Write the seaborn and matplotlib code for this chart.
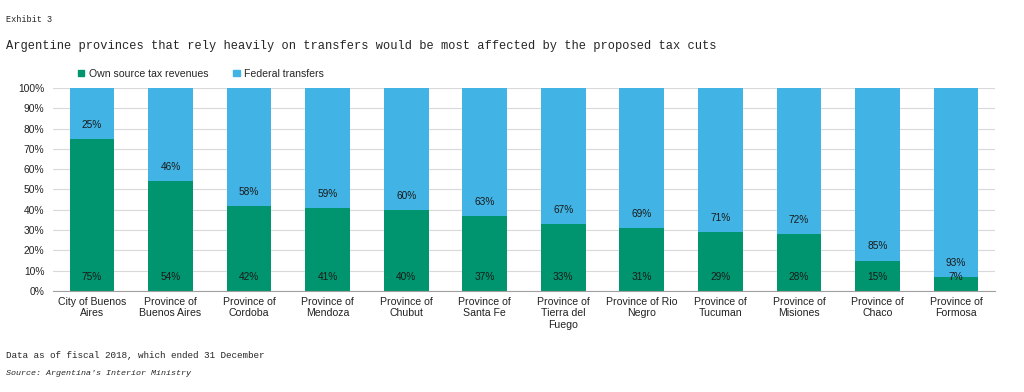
import matplotlib
matplotlib.use("Agg")
import matplotlib.pyplot as plt
from matplotlib.patches import Patch
import seaborn as sns
import pandas as pd

provinces = ["City of Buenos\nAires", "Province of\nBuenos Aires", "Province of\nCordoba",
             "Province of\nMendoza", "Province of\nChubut", "Province of\nSanta Fe",
             "Province of\nTierra del\nFuego", "Province of Rio\nNegro", "Province of\nTucuman",
             "Province of\nMisiones", "Province of\nChaco", "Province of\nFormosa"]
own_source = [75, 54, 42, 41, 40, 37, 33, 31, 29, 28, 15, 7]
federal = [25, 46, 58, 59, 60, 63, 67, 69, 71, 72, 85, 93]

green = "#00956E"
blue = "#41B4E5"

df = pd.DataFrame({'province': provinces, 'own': own_source, 'federal': federal})
df['total'] = df['own'] + df['federal']

sns.set_style("white")
plt.rcParams['font.family'] = ['Liberation Sans', 'DejaVu Sans']

fig = plt.figure(figsize=(10.24, 3.92), dpi=100)
ax = fig.add_axes([0.0515, 0.2577, 0.9205, 0.5178])  # left, bottom, width, height

sns.barplot(data=df, x='province', y='total', color=blue, width=0.57, ax=ax, saturation=1, linewidth=0)
sns.barplot(data=df, x='province', y='own', color=green, width=0.57, ax=ax, saturation=1, linewidth=0)

# labels sit just above the base of each segment
for i, row in df.iterrows():
    ax.text(i, 7, f"{row['own']}%", ha='center', va='center', fontsize=7.3, color="#1a1a1a")
    ax.text(i, row['own'] + 7, f"{row['federal']}%", ha='center', va='center', fontsize=7.3, color="#1a1a1a")

ax.set_ylim(0, 100)
ax.set_yticks(range(0, 101, 10))
ax.set_yticklabels([f"{v}%" for v in range(0, 101, 10)], fontsize=7.4, color="#222222")
ax.tick_params(axis='x', labelsize=7.6, colors="#222222", length=0, pad=4)
ax.tick_params(axis='y', length=0, pad=6)
ax.yaxis.grid(True, color="#d9d9d9", linewidth=0.8)
ax.set_axisbelow(True)
ax.set(xlabel=None, ylabel=None)
sns.despine(ax=ax, left=True)
ax.spines['bottom'].set_color("#a0a0a0")

handles = [Patch(color=green, label="Own source tax revenues"),
           Patch(color=blue, label="Federal transfers")]
fig.legend(handles=handles, loc='center left', bbox_to_anchor=(0.067, 0.812), ncol=2,
           frameon=False, fontsize=7.6, handlelength=0.6, handleheight=0.6, handletextpad=0.4,
           columnspacing=2.4)

fig.text(0.006, 0.950, "Exhibit 3", family='Liberation Mono', fontsize=6.2, va='center')
fig.text(0.006, 0.883, "Argentine provinces that rely heavily on transfers would be most affected by the proposed tax cuts",
         family='Liberation Mono', fontsize=8.65, va='center')
fig.text(0.006, 0.094, "Data as of fiscal 2018, which ended 31 December",
         family='Liberation Mono', fontsize=6.7, va='center')
fig.text(0.006, 0.048, "Source: Argentina's Interior Ministry",
         family='Liberation Mono', fontsize=6, style='italic', va='center')

plt.savefig("out.png", dpi=100)
